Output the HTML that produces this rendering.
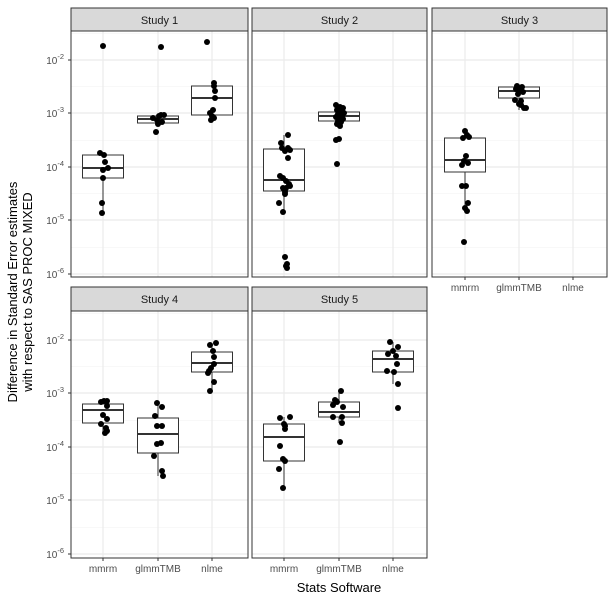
<!DOCTYPE html>
<html><head><meta charset="utf-8"><style>
html,body{margin:0;padding:0;background:#fff;}
svg{display:block;font-family:"Liberation Sans",sans-serif;}
</style></head><body>
<svg id="s" width="614" height="603" xmlns="http://www.w3.org/2000/svg"></svg>
<script>
const S=document.getElementById('s');let h='';
const panels=[
 {x0:71,x1:248,top:31,bot:277,st:8,name:'Study 1',cats:[103,158,212],off:0},
 {x0:252,x1:427,top:31,bot:277,st:8,name:'Study 2',cats:[284,339,393],off:0},
 {x0:432,x1:607,top:31,bot:277,st:8,name:'Study 3',cats:[465,519,573],off:0},
 {x0:71,x1:248,top:311,bot:558,st:287,name:'Study 4',cats:[103,158,212],off:280},
 {x0:252,x1:427,top:311,bot:558,st:287,name:'Study 5',cats:[284,339,393],off:280}];
const boxes=[
 [[155,168,178,153,213],[116,119,123,115,124],[86,98,115,83,120]],
 [[149,180,191,135,212],[112,116,121,105,126],null],
 [[138,160,172,130,210],[87,91,98,85,110],null],
 [[404,410,423,401,433],[418,434,453,404,476],[352,363,372,343,391]],
 [[424,437,461,417,488],[402,412,417,391,423],[351,359,372,342,384]]];
const pts=[
 [[103,46],[100,153],[104,155],[105,162],[108,168],[103,170],[103,178],[102,203],[102,213],
  [161,47],[156,132],[153,118],[159,116],[161,115],[164,115],[157,120],[162,122],[158,124],
  [207,42],[214,83],[214,86],[215,91],[215,98],[213,110],[210,113],[212,116],[214,118],[211,120]],
 [[288,135],[281,143],[282,148],[288,148],[290,150],[285,151],[288,158],[280,176],[283,178],[286,181],[289,184],[290,186],[286,188],[283,188],[285,192],[285,194],[279,203],[283,212],[285,257],[287,264],[287,268],[286,266],
  [336,105],[340,107],[343,108],[337,110],[341,112],[344,113],[338,114],[342,116],[336,117],[340,118],[343,119],[338,121],[341,122],[337,124],[340,126],[336,140],[339,139],[337,164]],
 [[465,131],[467,135],[469,137],[463,138],[466,156],[464,161],[462,165],[468,163],[462,186],[466,186],[468,203],[465,208],[467,211],[464,242],
  [517,86],[522,87],[516,89],[520,90],[523,92],[518,94],[515,100],[521,101],[519,104],[524,108],[526,108],[521,105]],
 [[101,402],[104,401],[107,401],[107,406],[103,415],[107,419],[101,424],[106,428],[107,431],[105,433],
  [157,403],[162,407],[155,416],[157,426],[162,426],[157,444],[161,443],[154,456],[162,471],[163,476],
  [210,345],[216,343],[213,351],[214,357],[214,364],[211,368],[209,371],[214,382],[210,391],[208,373]],
 [[280,418],[290,417],[284,424],[285,426],[285,429],[280,446],[283,459],[285,461],[279,469],[283,488],
  [341,391],[335,400],[337,402],[333,405],[343,407],[333,417],[342,417],[342,423],[340,442],[336,401],
  [390,342],[398,347],[388,354],[393,351],[396,356],[397,364],[387,371],[394,372],[398,384],[398,408]]];
const majors=[60,113,167,220,274], exps=['-2','-3','-4','-5','-6'];
panels.forEach((p,i)=>{
 h+=`<rect x="${p.x0}" y="${p.top}" width="${p.x1-p.x0}" height="${p.bot-p.top}" fill="#fff"/>`;
 majors.forEach(m=>{const y=m+p.off,ym=y-26.75;
  if(ym>p.top)h+=`<line x1="${p.x0}" x2="${p.x1}" y1="${ym}" y2="${ym}" stroke="#f0f0f0" stroke-width="0.6"/>`;
  h+=`<line x1="${p.x0}" x2="${p.x1}" y1="${y}" y2="${y}" stroke="#ebebeb" stroke-width="1.2"/>`;});
 p.cats.forEach(c=>h+=`<line x1="${c}" x2="${c}" y1="${p.top}" y2="${p.bot}" stroke="#ebebeb" stroke-width="1.2"/>`);
 boxes[i].forEach((b,j)=>{if(!b)return;const c=p.cats[j];
  h+=`<line x1="${c}" x2="${c}" y1="${b[3]}" y2="${b[4]}" stroke="#333" stroke-width="1"/>`;
  h+=`<rect x="${c-20.5}" y="${b[0]}" width="41" height="${b[2]-b[0]}" fill="#fff" stroke="#333" stroke-width="1"/>`;
  h+=`<line x1="${c-20.5}" x2="${c+20.5}" y1="${b[1]}" y2="${b[1]}" stroke="#333" stroke-width="2"/>`;});
 pts[i].forEach(q=>h+=`<circle cx="${q[0]}" cy="${q[1]}" r="3" fill="#000"/>`);
 h+=`<rect x="${p.x0}" y="${p.top}" width="${p.x1-p.x0}" height="${p.bot-p.top}" fill="none" stroke="#333" stroke-width="1"/>`;
 h+=`<rect x="${p.x0}" y="${p.st}" width="${p.x1-p.x0}" height="${p.top-p.st}" fill="#d9d9d9" stroke="#333" stroke-width="1"/>`;
 h+=`<text x="${(p.x0+p.x1)/2}" y="${p.st+16}" font-size="11" fill="#1a1a1a" text-anchor="middle">${p.name}</text>`;
 if(i==0||i==3){majors.forEach((m,k)=>{const y=m+p.off;
  h+=`<line x1="${p.x0-3}" x2="${p.x0}" y1="${y}" y2="${y}" stroke="#333"/>`;
  h+=`<text x="${p.x0-7}" y="${y+4}" font-size="10" fill="#4d4d4d" text-anchor="end">10<tspan dy="-5" font-size="7.5">${exps[k]}</tspan></text>`;});}
 if(i>=2){const names=['mmrm','glmmTMB','nlme'];p.cats.forEach((c,k)=>{
  h+=`<line x1="${c}" x2="${c}" y1="${p.bot}" y2="${p.bot+3}" stroke="#333"/>`;
  h+=`<text x="${c}" y="${p.bot+14}" font-size="10" fill="#4d4d4d" text-anchor="middle">${names[k]}</text>`;});}
});
h+=`<text x="339" y="592" font-size="13" fill="#000" text-anchor="middle">Stats Software</text>`;
h+=`<text transform="translate(17,292) rotate(-90)" font-size="13" fill="#000" text-anchor="middle">Difference in Standard Error estimates</text>`;
h+=`<text transform="translate(32,292) rotate(-90)" font-size="13" fill="#000" text-anchor="middle">with respect to SAS PROC MIXED</text>`;
S.innerHTML=h;
</script>
</body></html>
